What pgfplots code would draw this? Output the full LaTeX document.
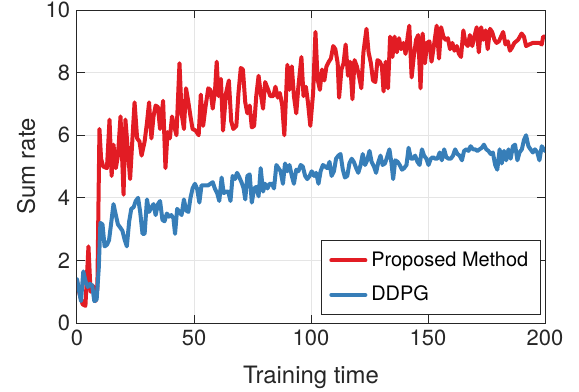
\documentclass[border=0pt]{standalone}
\usepackage{pgfplots}
\pgfplotsset{compat=1.18}
\usepackage{fontspec}
\setmainfont{TeX Gyre Heros}
\definecolor{myred}{RGB}{226,28,36}
\definecolor{myblue}{RGB}{55,126,184}
\definecolor{axgray}{RGB}{38,38,38}
\begin{document}
\begin{tikzpicture}
\begin{axis}[
  scale only axis,
  width=234bp, height=156.5bp,
  xmin=0, xmax=200, ymin=0, ymax=10,
  xtick={0,50,100,150,200},
  ytick={0,2,4,6,8,10},
  grid=major,
  major grid style={color=black!10, line width=0.5bp},
  axis line style={color=axgray, line width=0.5bp},
  tick style={color=axgray, line width=0.5bp},
  major tick length=4bp,
  tick align=inside,
  xtick pos=both, ytick pos=both,
  ticklabel style={font=\fontsize{11}{13}\selectfont, color=axgray},
  /pgf/number format/assume math mode=true,
  xlabel={Training time}, ylabel={Sum rate},
  label style={font=\fontsize{12}{14}\selectfont, color=axgray},
  xlabel style={at={(rel axis cs:0.5,-0.174)}, anchor=center},
  ylabel style={at={(rel axis cs:-0.1086,0.5)}, anchor=center, rotate=0},
  legend style={at={(rel axis cs:0.521,0.0245)}, anchor=south west,
    font=\fontsize{10}{12}\selectfont, draw=axgray, line width=0.5bp,
    row sep=4.5bp, inner xsep=4bp, inner ysep=3.5bp, cells={anchor=west}},
  legend cell align=left,
  every axis plot/.append style={line join=round, line cap=round},
  clip=true,
]
\addplot[myred, line width=2bp] coordinates {
(0,1.35)(1.2,0.9)(2.4,0.6)(3.6,0.55)(4.9,2.45)(5.8,1.0)(6.8,1.2)(7.9,0.7)(8.7,1.1)(9.6,6.2)(10.3,5.25)(11.2,5.0)(12.8,4.95)(13.9,6.5)(14.8,4.7)(15.6,5.7)(16.6,4.95)(17.5,5.35)(18.6,6.6)(19.9,4.1)(20.7,6.5)(21.8,5.45)(22.7,4.6)(23.7,5.9)(24.6,7.05)(25.7,5.9)(26.7,5.8)(27.6,5.35)(28.9,5.8)(29.9,6.4)(30.8,7.05)(31.8,5.9)(32.7,6.6)(33.6,6.95)(34.6,6.9)(35.5,6.2)(36.8,7.1)(37.8,4.95)(38.7,6.1)(39.7,5.9)(40.6,6.6)(41.5,6.3)(42.5,6.0)(43.8,8.3)(44.7,6.7)(45.7,6.2)(46.6,7.5)(47.6,7.05)(48.5,6.6)(49.4,6.2)(50.7,6.15)(52,6.0)(52.9,7.3)(53.9,6.3)(55,6.95)(56.1,7.5)(57,7.45)(58,6.85)(59,7.45)(59.7,8.35)(60.5,7.25)(61.5,7.8)(62.4,6.15)(63.7,7.35)(64.9,7.75)(65.9,6.45)(66.8,6.2)(68.1,6.3)(69,7.35)(70,8.15)(70.9,8.1)(71.9,7.05)(72.8,6.7)(73.8,6.95)(74.7,6.25)(75.7,6.3)(76.6,7.25)(77.6,7.9)(78.5,7.35)(79.5,6.85)(80.4,7.7)(81.7,7.45)(82.6,7.25)(83.9,7.25)(84.8,7.55)(85.8,7.2)(86.7,7.35)(87.7,6.95)(88.6,6.0)(89.9,8.25)(90.8,7.45)(91.8,8.2)(92.7,7.25)(93.7,6.7)(94.6,7.55)(95.9,8.5)(96.8,7.25)(97.8,7.55)(98.7,7.05)(99.7,6.3)(100.9,7.35)(101.9,9.3)(102.8,7.8)(103.8,7.45)(104.7,8.1)(105.7,7.75)(106.6,8.2)(107.6,8.35)(108.5,8.45)(109.5,8.85)(110.4,8.75)(111.4,8.3)(112,7.2)(113,8.1)(113.9,8.3)(114.8,8.9)(115.8,7.9)(116.7,8.35)(117.7,7.15)(118.6,8.4)(119.6,8.2)(120.5,7.9)(121.5,7.5)(122.4,8.65)(123.7,9.4)(124.6,8.65)(125.6,8.3)(126.5,7.75)(127.5,7.7)(128.4,8.4)(129.4,8.35)(130.3,8.2)(131,7.4)(131.9,8.35)(132.9,7.5)(133.8,9.15)(134.8,8.5)(135.7,9.15)(136.7,8.65)(137.6,9.1)(138.5,8.75)(139.5,8.95)(140.4,8.6)(141.4,9.2)(142,9.5)(143,7.85)(143.9,8.5)(144.9,9.05)(145.8,9.2)(146.8,7.5)(147.7,9.25)(148.7,8.3)(149.6,8.95)(150.6,9.0)(151.5,8.35)(152.5,8.85)(153.7,9.5)(154.7,8.45)(155.6,9.45)(156.6,9.15)(157.5,9.05)(158.5,9.1)(159.4,8.75)(160.4,8.95)(161.3,8.7)(162.3,8.85)(163.2,8.6)(164.1,8.5)(165.1,9.35)(166,8.95)(167,8.85)(167.9,9.2)(168.9,8.85)(169.8,9.15)(170.8,9.45)(171.7,8.65)(172.7,9.45)(173.6,9.05)(174.6,9.35)(175.5,8.75)(176.5,9.4)(177.4,9.3)(178.4,9.05)(179.3,8.95)(180.3,9.0)(181.2,9.15)(182.1,9.3)(183.1,8.9)(184.1,9.0)(185,8.7)(185.9,8.8)(186.9,8.95)(188.5,9.05)(190,9.25)(191,9.15)(191.9,8.85)(193.2,8.9)(194.8,8.95)(196.4,8.95)(197.6,8.95)(198.6,8.9)(199.2,9.15)(200,9.15)
};
\addlegendentry{Proposed Method}
\addplot[myblue, line width=2bp] coordinates {
(0,1.4)(1.7,0.7)(2.7,1.65)(3.6,1.35)(4.6,1.15)(5.5,1.25)(6.5,1.2)(7.4,0.7)(8.4,0.75)(9.3,1.75)(10,3.2)(10.9,3.15)(11.8,2.45)(12.8,2.5)(13.7,2.65)(14.7,3.25)(15.6,3.8)(16.6,3.45)(17.5,3.15)(18.5,3.05)(19.4,2.95)(20.4,2.65)(21.3,2.45)(22.3,3.25)(23.2,3.65)(24.2,3.7)(25.1,3.9)(26.1,4.0)(27,3.55)(28,2.85)(28.9,2.85)(29.9,3.95)(30.8,3.55)(31.8,3.7)(32.7,3.8)(33.6,3.45)(34.6,3.8)(35.5,3.9)(36.5,3.3)(37.4,3.25)(38.4,3.5)(39.3,3.4)(40.3,3.45)(41.2,3.35)(41.9,2.85)(42.8,3.65)(43.8,3.55)(44.7,3.45)(45.7,3.95)(46.6,3.6)(47.6,3.55)(48.5,4.0)(49.4,4.3)(50.4,4.45)(51.3,4.3)(52.3,3.85)(53.2,4.4)(54.2,4.4)(55.1,4.4)(56.1,4.4)(57,4.45)(58,4.5)(58.9,4.3)(59.9,4.15)(60.8,3.9)(61.8,4.65)(62.7,4.15)(63.7,4.2)(64.6,4.2)(65.6,3.9)(66.5,4.7)(67.5,4.6)(68.4,4.8)(69.4,4.65)(70.3,4.5)(71.2,4.3)(71.9,3.95)(72.8,4.7)(73.8,4.75)(74.7,3.85)(75.7,4.3)(76.6,4.35)(77.6,4.05)(78.5,4.95)(79.5,4.2)(80.4,4.45)(81.4,4.3)(82.3,4.45)(83.3,4.45)(84.2,4.3)(85.2,5.05)(86.1,4.95)(87,4.85)(88,4.45)(88.9,5.1)(89.9,4.85)(90.8,5.05)(91.8,4.7)(92.7,4.45)(93.7,4.9)(94.6,4.85)(95.6,5.05)(96.5,5.0)(97.5,4.7)(98.4,4.6)(99.4,4.7)(100.3,4.85)(101.3,4.7)(102.2,4.8)(103.2,4.45)(104.1,4.85)(105.1,5.05)(106,5.0)(107,4.95)(107.9,5.15)(108.8,4.7)(109.8,4.85)(110.7,5.25)(111.7,5.35)(112.6,5.4)(113.6,4.9)(114.5,4.65)(115.5,4.7)(116.4,5.1)(117.4,5.25)(118.3,5.15)(119.3,4.95)(120.2,4.8)(121.2,5.05)(122.1,5.4)(123.1,5.05)(124,5.2)(125,5.5)(125.9,5.15)(126.9,5.0)(127.8,4.8)(128.8,5.15)(129.7,5.35)(130.6,5.05)(131.6,5.1)(132.5,5.3)(133.5,5.55)(134.4,5.1)(135.1,4.6)(136,5.2)(137,5.15)(137.9,5.05)(138.9,4.9)(139.8,4.95)(140.8,5.05)(141.7,5.6)(142.7,5.25)(143.6,5.25)(144.5,5.35)(145.5,5.15)(146.4,5.05)(147.4,5.55)(148.3,5.35)(149.3,5.25)(150.2,5.05)(151.2,5.25)(152.1,5.3)(153.1,5.25)(154,5.25)(155,5.45)(155.9,5.2)(156.9,5.55)(157.8,5.3)(158.8,5.25)(159.7,5.25)(160.7,5.35)(161.6,5.55)(162.6,5.4)(163.5,5.35)(164.5,5.2)(165.4,5.5)(166.4,5.55)(167.3,5.5)(168.2,5.65)(169.2,5.55)(170.1,5.55)(171.1,5.5)(172,5.55)(173,5.6)(173.9,5.7)(174.9,5.55)(175.8,5.5)(176.8,5.4)(177.7,5.45)(178.7,5.05)(179.6,4.9)(180.6,5.55)(181.5,5.1)(182.5,5.5)(183.4,5.2)(184.4,5.55)(185.3,5.25)(186.3,5.65)(187.2,5.7)(188.2,5.2)(189.1,5.45)(190.1,5.55)(191,5.85)(191.9,6.0)(192.9,5.65)(193.8,5.55)(194.8,5.45)(195.7,5.55)(196.7,5.45)(197.6,5.2)(198.6,5.65)(199.5,5.55)(200,5.5)
};
\addlegendentry{DDPG}
\coordinate (bbsw) at (rel axis cs:-0.1645,-0.2173);
\coordinate (bbne) at (rel axis cs:1.0726,1.0321);
\end{axis}
\pgfresetboundingbox
\path[use as bounding box] (bbsw) rectangle (bbne);
\end{tikzpicture}
\end{document}
